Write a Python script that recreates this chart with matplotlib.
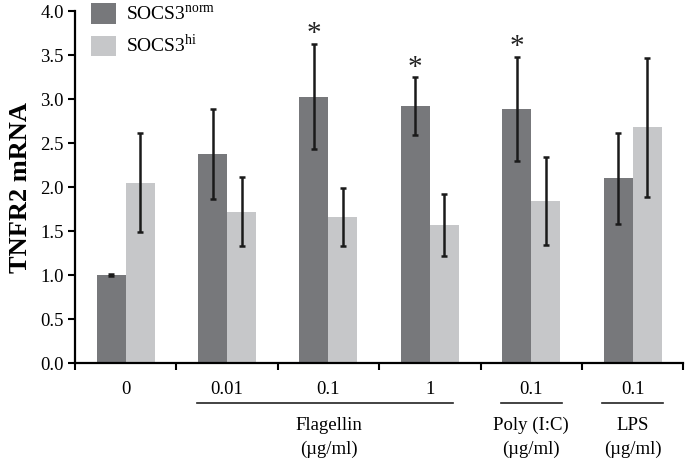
import matplotlib
matplotlib.use('Agg')
import matplotlib.pyplot as plt
import numpy as np
from matplotlib.patches import Patch

plt.rcParams['font.family'] = 'Liberation Serif'
plt.rcParams['mathtext.fontset'] = 'custom'
plt.rcParams['mathtext.rm'] = 'Liberation Serif'

doses = ['0', '0.01', '0.1', '1', '0.1', '0.1']
norm_mean = [1.00, 2.38, 3.03, 2.92, 2.89, 2.10]
norm_err = [0.01, 0.51, 0.60, 0.33, 0.59, 0.52]
hi_mean = [2.05, 1.72, 1.66, 1.57, 1.84, 2.68]
hi_err = [0.56, 0.39, 0.33, 0.35, 0.50, 0.79]
star_groups = [2, 3, 4]
groups = [('Flagellin\n(\u00b5g/ml)', 1, 3), ('Poly (I:C)\n(\u00b5g/ml)', 4, 4), ('LPS\n(\u00b5g/ml)', 5, 5)]

dark = '#77787b'
light = '#c6c7c9'

fig = plt.figure(figsize=(6.85, 4.65), dpi=100)
ax = fig.add_axes([0.1095, 0.219, 0.888, 0.757])

x = np.arange(len(doses))
w = 0.286
errkw = dict(ecolor='#1a1a1a', elinewidth=1.8, capsize=2.5, capthick=1.8)
ax.bar(x - w / 2, norm_mean, w, color=dark, yerr=norm_err, error_kw=errkw, zorder=2)
ax.bar(x + w / 2, hi_mean, w, color=light, yerr=hi_err, error_kw=errkw, zorder=2)

for g in star_groups:
    ax.text(g - w / 2, norm_mean[g] + norm_err[g] + 0.03, '*', ha='center', va='baseline',
            fontsize=21, color='#222222')

ax.set_xlim(-0.5, len(doses) - 0.5)
ax.set_ylim(0, 4)
ax.set_yticks(np.arange(0, 4.01, 0.5))
ax.set_yticklabels([f'{v:.1f}' for v in np.arange(0, 4.01, 0.5)])
ax.set_xticks(x)
ax.set_xticklabels(doses)
ax.set_xticks(np.arange(-0.5, len(doses), 1), minor=True)
ax.tick_params(axis='x', which='major', length=0, pad=13, labelsize=13.5)
ax.tick_params(axis='x', which='minor', length=5, width=1.5, direction='out')
ax.tick_params(axis='y', length=5, width=1.5, direction='out', pad=3, labelsize=13.5)
for s in ['top', 'right']:
    ax.spines[s].set_visible(False)
for s in ['left', 'bottom']:
    ax.spines[s].set_linewidth(1.6)
ax.set_ylabel('TNFR2 mRNA', fontsize=19, fontweight='bold', labelpad=6)

tr = ax.get_xaxis_transform()
for label, g0, g1 in groups:
    left = g0 - 0.3
    right = g1 + (0.23 if g1 > g0 else 0.3)
    ax.plot([left, right], [-0.114, -0.114], color='#222222', lw=1.2, transform=tr, clip_on=False)
    ax.text((g0 + g1) / 2, -0.152, label, transform=tr, ha='center', va='top',
            fontsize=13.5, linespacing=1.5)

handles = [Patch(facecolor=dark, label='SOCS3$^{\\mathrm{norm}}$'),
           Patch(facecolor=light, label='SOCS3$^{\\mathrm{hi}}$')]
ax.legend(handles=handles, loc='upper left', bbox_to_anchor=(0.011, 1.05), frameon=False,
          fontsize=14, handlelength=1.25, handleheight=1.25, handletextpad=0.55,
          labelspacing=0.5, borderpad=0)

fig.savefig('out.png', dpi=100)
